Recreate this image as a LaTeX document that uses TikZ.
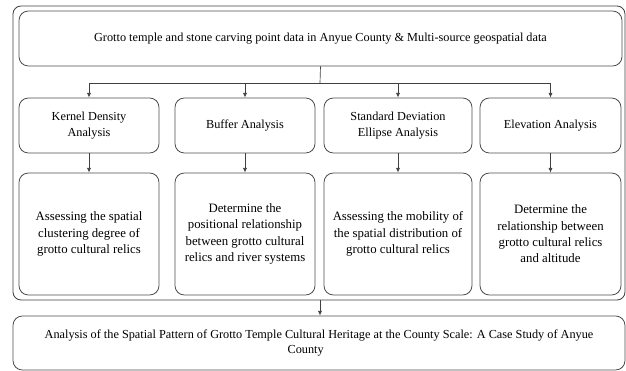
\documentclass[tikz,border=0pt]{standalone}
\usepackage{fontspec}
\setmainfont{Liberation Serif}
\usepackage{tikz}
\usetikzlibrary{arrows.meta}
\usetikzlibrary{positioning}
\tikzstyle{frm}=[draw=black!75, line width=0.6pt, rounded corners=6pt]
\tikzstyle{blk}=[draw=black!70, line width=0.6pt, rounded corners=7pt,
                align=center, inner sep=2pt, text=black]
\tikzstyle{aim}=[blk, font=\fontsize{9.6}{12.2}\selectfont]
\tikzstyle{arw}=[draw=black!75, line width=0.5pt, -{Latex[length=3.5pt,width=3pt]}]
\tikzstyle{ln}=[draw=black!75, line width=0.5pt]

\begin{document}
\begin{tikzpicture}[x=0.75pt, y=-0.75pt]
\fontsize{9.2}{11.6}\selectfont
\def \rowtop {125.5}
\def \rowbot {234}
\useasboundingbox (0,0) rectangle (626,371);

% outer frame and the two full width boxes
\node[frm, minimum width=612*0.75pt, minimum height=294*0.75pt] at (319,153) (frame) {};
\node[blk, minimum width=603*0.75pt, minimum height=55*0.75pt] at (320.5,38.5) (top)
  {Grotto temple and stone carving point data in Anyue County \& Multi-source geospatial data};
\node[blk, minimum width=612*0.75pt, minimum height=54*0.75pt] at (319,343) (result)
  {Analysis of the Spatial Pattern of Grotto Temple Cultural Heritage at the County Scale: A Case Study of Anyue\\County\hspace*{20pt}};

% methods
\node[blk, minimum width=140*0.75pt, minimum height=55*0.75pt] at (89,\rowtop) (m1) {Kernel Density\\Analysis};
\node[blk, minimum width=140*0.75pt, minimum height=55*0.75pt] at (245,\rowtop) (m2) {Buffer Analysis};
\node[blk, minimum width=148*0.75pt, minimum height=55*0.75pt] at (398,\rowtop) (m3) {Standard Deviation\\Ellipse Analysis};
\node[blk, minimum width=141*0.75pt, minimum height=55*0.75pt] at (550.5,\rowtop) (m4) {Elevation Analysis};

% aims
\node[aim, minimum width=140*0.75pt, minimum height=122*0.75pt] at (89,\rowbot) (g1)
  {Assessing the spatial\\clustering degree of\\grotto cultural relics};
\node[aim, minimum width=140*0.75pt, minimum height=122*0.75pt] at (245,\rowbot) (g2)
  {Determine the\\positional relationship\\between grotto cultural\\relics and river systems};
\node[aim, minimum width=148*0.75pt, minimum height=122*0.75pt] at (398,\rowbot) (g3)
  {Assessing the mobility of\\the spatial distribution of\\grotto cultural relics};
\node[aim, minimum width=141*0.75pt, minimum height=122*0.75pt] at (550.5,\rowbot) (g4)
  {Determine the\\relationship between\\grotto cultural relics\\and altitude};

\coordinate (br) at (320,83);
\draw[ln] (top.south) -- (br);
\draw[ln] (br -| m1.north) -- (br -| m4.north);
\foreach \i in {1,...,4}
{
  \draw[arw] (br -| m\i.north) -- (m\i.north);
  \draw[arw] (m\i.south) -- (g\i.north);
}
\draw[arw] (frame.south -| br) -- (result.north -| br);
\end{tikzpicture}
\end{document}
